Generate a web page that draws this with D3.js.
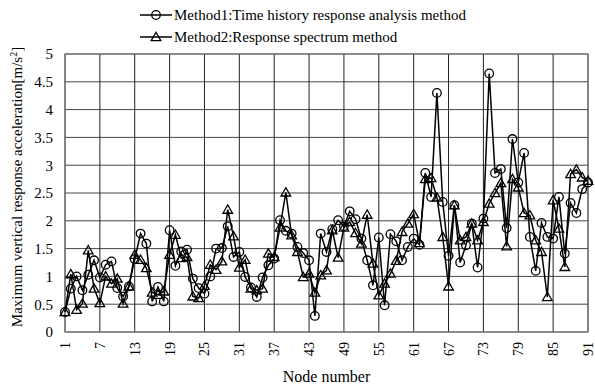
<!DOCTYPE html>
<html>
<head>
<meta charset="utf-8">
<script src="https://cdn.jsdelivr.net/npm/d3@7"></script>
<style>
  body { margin: 0; background: #fff; }
  svg text { font-family: "Liberation Serif", "Times New Roman", Times, serif !important; fill: #000; }
</style>
</head>
<body>
<svg id="chart"></svg>
<script>
const nodes = d3.range(1, 92);

const method1 = [
  0.36, 0.78, 1.00, 0.75, 1.03, 1.29, 0.98, 1.21, 1.27, 0.79,
  0.64, 0.82, 1.31, 1.77, 1.59, 0.55, 0.81, 0.55, 1.83, 1.19,
  1.45, 1.48, 0.96, 0.79, 0.69, 1.00, 1.50, 1.51, 1.90, 1.35,
  1.44, 0.99, 0.80, 0.63, 0.98, 1.20, 1.32, 2.01, 1.82, 1.77,
  1.53, 1.42, 1.29, 0.29, 1.77, 1.44, 1.85, 2.01, 1.90, 2.17,
  2.03, 1.68, 1.29, 0.84, 1.70, 0.48, 1.76, 1.63, 1.29, 1.53,
  1.68, 1.57, 2.86, 2.43, 4.30, 2.34, 1.37, 2.28, 1.25, 1.56,
  1.95, 1.16, 2.04, 4.65, 2.86, 2.93, 1.87, 3.47, 2.69, 3.22,
  1.71, 1.10, 1.96, 1.71, 1.68, 2.43, 1.41, 2.32, 2.14, 2.57,
  2.69
];

const method2 = [
  0.36, 1.04, 0.40, 0.51, 1.47, 0.78, 0.52, 1.00, 0.87, 0.96,
  0.51, 0.82, 1.39, 1.30, 1.15, 0.71, 0.67, 0.73, 1.39, 1.75,
  1.33, 1.35, 0.64, 0.61, 0.83, 1.21, 1.12, 1.27, 2.20, 1.72,
  1.16, 1.30, 0.78, 0.75, 0.78, 1.41, 1.35, 1.88, 2.51, 1.74,
  1.44, 0.99, 1.05, 0.71, 1.02, 1.11, 1.83, 1.34, 1.88, 1.98,
  1.78, 1.59, 2.11, 1.23, 0.66, 0.87, 1.05, 1.28, 1.80, 1.95,
  2.12, 1.60, 2.75, 2.77, 2.42, 1.71, 0.82, 2.28, 1.65, 1.71,
  1.95, 1.65, 1.98, 2.31, 2.50, 2.68, 1.54, 2.75, 2.60, 2.14,
  2.10, 1.65, 1.44, 0.63, 2.37, 1.86, 1.17, 2.84, 2.92, 2.78,
  2.72
];

const xTicks = d3.range(1, 92, 6);
const yTicks = d3.range(0, 5.01, 0.5);

const seriesNames = [
  "Method1:Time history response analysis method",
  "Method2:Response spectrum method"
];

const W = 595, H = 387;
const margin = { top: 54, right: 7, bottom: 55, left: 65 };
const width = W - margin.left - margin.right;
const height = H - margin.top - margin.bottom;
const serif = '"Liberation Serif", "Times New Roman", Times, serif';

const svg = d3.select("#chart").attr("width", W).attr("height", H);
const g = svg.append("g").attr("transform", `translate(${margin.left},${margin.top})`);

const x = d3.scaleLinear().domain([1, 91]).range([0, width]);
const y = d3.scaleLinear().domain([0, 5]).range([height, 0]);

// grid
g.selectAll(".h-grid").data(yTicks).enter().append("line")
  .attr("x1", 0).attr("x2", width)
  .attr("y1", d => y(d)).attr("y2", d => y(d))
  .style("stroke", "#444").style("stroke-width", 1);
g.selectAll(".v-grid").data(xTicks).enter().append("line")
  .attr("x1", d => x(d)).attr("x2", d => x(d))
  .attr("y1", 0).attr("y2", height)
  .style("stroke", "#222").style("stroke-width", 1);
g.append("rect").attr("width", width).attr("height", height)
  .style("fill", "none").style("stroke", "#777").style("stroke-width", 1);

// axes (labels only)
const yAxis = g.append("g")
  .call(d3.axisLeft(y).tickValues(yTicks).tickSize(0).tickPadding(12).tickFormat(d => String(d)))
  .attr("font-family", serif).attr("font-size", 15);
yAxis.select(".domain").remove();

const xAxis = g.append("g").attr("transform", `translate(0,${height})`)
  .call(d3.axisBottom(x).tickValues(xTicks).tickSize(0).tickFormat(d => String(d)))
  .attr("font-family", serif).attr("font-size", 14);
xAxis.select(".domain").remove();
xAxis.selectAll("text")
  .attr("transform", "rotate(-90)")
  .attr("x", -10).attr("y", 0).attr("dy", "0.32em")
  .style("text-anchor", "end");

// axis titles
svg.append("text")
  .attr("x", margin.left + width / 2).attr("y", 382)
  .attr("text-anchor", "middle").style("font-size", "16px")
  .text("Node number");

const yTitle = svg.append("text")
  .attr("transform", `translate(22,${margin.top + height / 2 - 6}) rotate(-90)`)
  .attr("text-anchor", "middle").style("font-size", "15px");
yTitle.append("tspan").text("Maximum vertical response acceleration[m/s");
yTitle.append("tspan").attr("baseline-shift", "super").style("font-size", "10px").text("2");
yTitle.append("tspan").text("]");

// series
const line = d3.line().x((d, i) => x(nodes[i])).y(d => y(d));
const tri = d3.symbol().type(d3.symbolTriangle).size(40);

g.append("path").datum(method1).attr("d", line)
  .style("fill", "none").style("stroke", "#000").style("stroke-width", 1.5);
g.append("path").datum(method2).attr("d", line)
  .style("fill", "none").style("stroke", "#000").style("stroke-width", 1.5);

g.selectAll(".m1").data(method1).enter().append("circle")
  .attr("cx", (d, i) => x(nodes[i])).attr("cy", d => y(d)).attr("r", 4.3)
  .style("fill", "none").style("stroke", "#000").style("stroke-width", 1.3);
g.selectAll(".m2").data(method2).enter().append("path")
  .attr("d", tri)
  .attr("transform", (d, i) => `translate(${x(nodes[i])},${y(d) + 0.8})`)
  .style("fill", "none").style("stroke", "#000").style("stroke-width", 1.3);

// legend
const legend = svg.append("g");
seriesNames.forEach((name, i) => {
  const ly = 15 + i * 22;
  const row = legend.append("g").attr("transform", `translate(140,${ly})`);
  row.append("line").attr("x1", 0).attr("x2", 32).attr("y1", 0).attr("y2", 0)
    .style("stroke", "#000").style("stroke-width", 1.5);
  if (i === 0) {
    row.append("circle").attr("cx", 16).attr("cy", 0).attr("r", 4.3)
      .style("fill", "none").style("stroke", "#000").style("stroke-width", 1.3);
  } else {
    row.append("path").attr("d", tri).attr("transform", "translate(16,0.8)")
      .style("fill", "none").style("stroke", "#000").style("stroke-width", 1.3);
  }
  row.append("text").attr("x", 34).attr("y", 0).attr("dy", "0.35em")
    .style("font-size", "15px").text(name);
});
</script>
</body>
</html>
